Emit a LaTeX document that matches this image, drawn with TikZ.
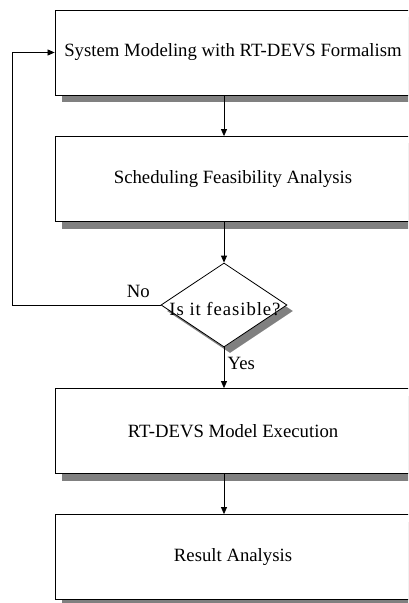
\documentclass[tikz,border=0pt]{standalone}
\usepackage{fontspec}
\setmainfont{Liberation Serif}
\usetikzlibrary{arrows.meta,shapes.geometric,shadows}

\begin{document}
\begin{tikzpicture}[x=1bp, y=-1bp,
    font=\fontsize{18.8}{22}\selectfont,
    box/.style={draw, line width=0.8bp, fill=white, inner sep=0pt,
        minimum width=356bp, minimum height=85bp,
        drop shadow={opacity=1, fill=gray, shadow xshift=7bp, shadow yshift=-7bp}},
    test/.style={draw, diamond, line width=0.8bp, fill=white, inner sep=0pt,
        minimum width=126bp, minimum height=84bp,
        drop shadow={opacity=1, fill=gray, shadow xshift=6bp, shadow yshift=-6bp}},
    flow/.style={line width=0.8bp, -{Triangle[length=7bp, width=6bp]}}]

    % 枠 (右端は切れている)
    \useasboundingbox (0,0) rectangle (408,603);
    \clip (0,0) rectangle (408,603);

    % 処理ボックス
    \node[box] (model) at (233,52.5) {System Modeling with RT-DEVS Formalism};
    \node[box] (sched) at (233,179) {Scheduling Feasibility Analysis};
    \node[box] (exec) at (233,431) {RT-DEVS Model Execution};
    \node[box] (result) at (233,557) {Result Analysis};

    % 判定
    \node[test, label={[yshift=-4bp, xshift=1bp, font=\fontsize{18.8}{22}\selectfont\addfontfeature{LetterSpace=5}]center:Is it feasible?}] (check) at (224,305) {};

    % 矢印
    \draw[flow] (model.south -| check.north) -- (sched.north -| check.north);
    \draw[flow] (sched.south -| check.north) -- (check.north);
    \draw[flow] (check.south) -- node[right, pos=0.4] {Yes} (exec.north -| check.south);
    \draw[flow] (exec.south -| check.south) -- (result.north -| check.south);

    % 戻り線
    \draw[flow] (check.west) -- node[above=4bp, pos=0.15] {No} ++(-148,0) |- (model.west);

\end{tikzpicture}
\end{document}
